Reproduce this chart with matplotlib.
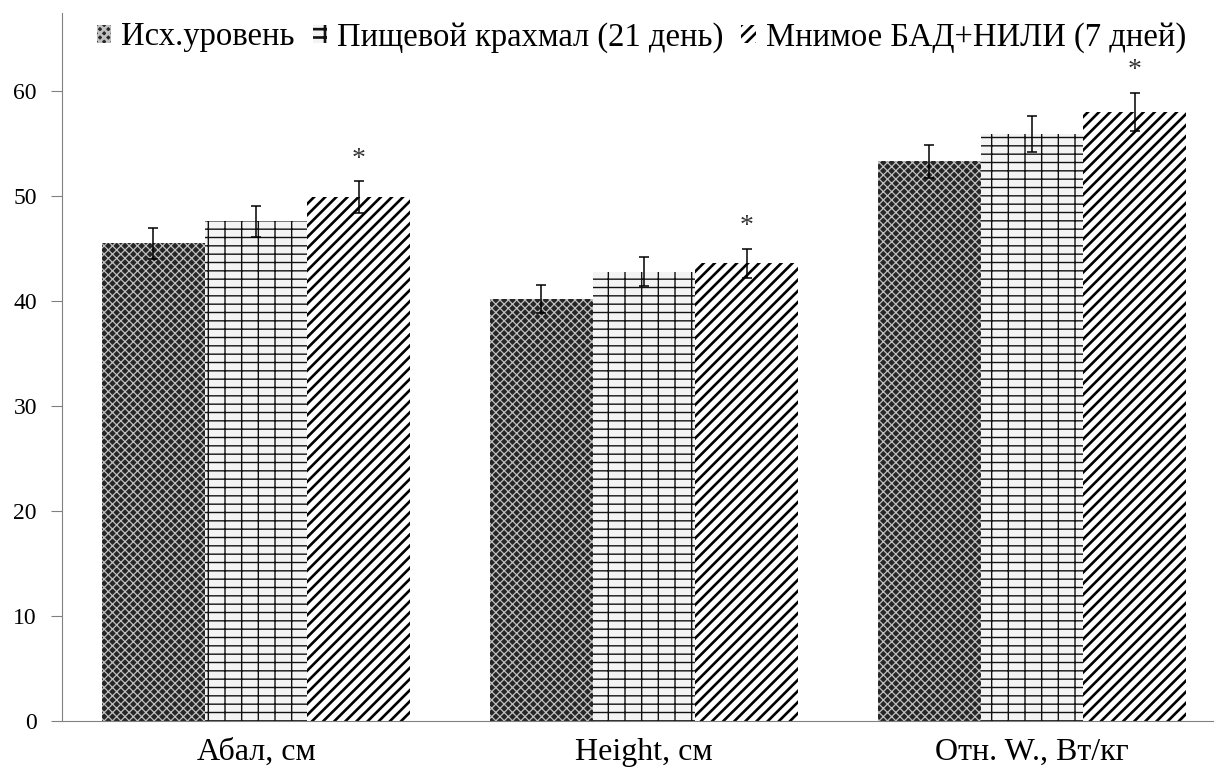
import numpy as np
import matplotlib.pyplot as plt

plt.rcParams['font.family'] = ['Liberation Serif', 'DejaVu Serif']

# categories and series
categories = ['Абал, см', 'Height, см', 'Отн. W., Вт/кг']
series_names = ['Исх.уровень', 'Пищевой крахмал (21 день)', 'Мнимое БАД+НИЛИ (7 дней)']
baseline = [45.5, 40.2, 53.3]
starch = [47.6, 42.8, 55.9]
sham = [49.9, 43.6, 58.0]
baseline_err = [1.45, 1.3, 1.6]
starch_err = [1.5, 1.4, 1.7]
sham_err = [1.5, 1.4, 1.8]
significant = [True, True, True]

fig = plt.figure(figsize=(12.14, 7.75), dpi=100)
ax = fig.add_axes([0.051, 0.0697, 0.949, 0.913])

x = np.arange(len(categories))
w = 0.265
# fill, hatch colour, hatch pattern, hatch line width
styles = [
    ('#262626', '#c0c0c0', 'xxxx', 0.9),
    ('#f4f4f4', '#111111', '--|', 1.0),
    ('white', 'black', '///', 1.9),
]
values = [baseline, starch, sham]
errors = [baseline_err, starch_err, sham_err]

for i, (vals, errs, st, name) in enumerate(zip(values, errors, styles, series_names)):
    fc, hc, hatch, hlw = st
    plt.rcParams['hatch.linewidth'] = hlw
    pos = x + (i - 1) * w
    bars = ax.bar(pos, vals, width=w, facecolor=fc, hatch=hatch,
                  edgecolor=hc, linewidth=0, label=name, zorder=2)
    for b in bars:
        b._hatch_linewidth = hlw
    ax.errorbar(pos, vals, yerr=errs, fmt='none', ecolor='black', elinewidth=1.1,
                capsize=3.5, capthick=1.1, zorder=3)

# significance marks over the last series
for xi, v, e, s in zip(x, sham, sham_err, significant):
    if s:
        ax.annotate('*', (xi + w, v + e), xytext=(0, 7), textcoords='offset points',
                    ha='center', va='bottom', fontsize=20, color='#333333')

ax.set_xlim(-0.5, 2.469)
ax.set_ylim(0, 67.4)
ax.set_yticks(range(0, 61, 10))
ax.set_xticks(x)
ax.set_xticklabels(categories, fontsize=23)
ax.tick_params(axis='x', length=0, pad=12)
ax.tick_params(axis='y', labelsize=17, length=8, color='#808080', pad=10)
for side in ['top', 'right']:
    ax.spines[side].set_visible(False)
for side in ['left', 'bottom']:
    ax.spines[side].set_color('#808080')

leg = ax.legend(loc='upper center', bbox_to_anchor=(0.503, 0.988), ncol=3, frameon=False,
                fontsize=23.5, handlelength=0.45, handleheight=0.45, handletextpad=0.3,
                columnspacing=0.55, borderaxespad=0, borderpad=0)

fig.savefig('out.png', dpi=100)
